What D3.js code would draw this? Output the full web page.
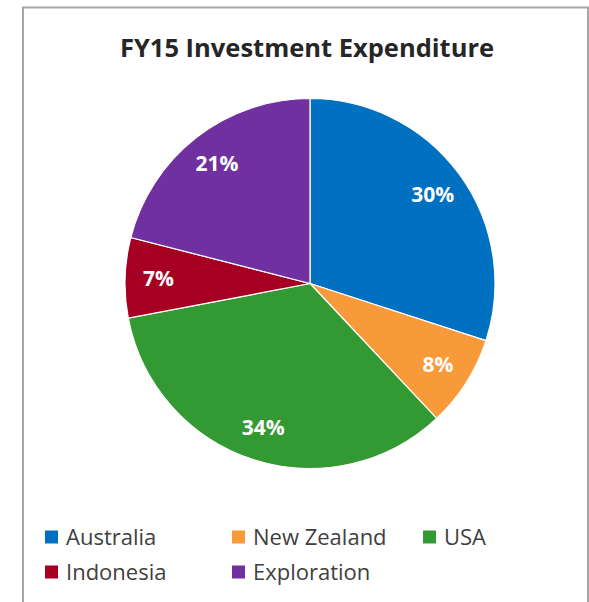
<!DOCTYPE html>
<html>
<head>
<meta charset="utf-8">
<script src="https://cdn.jsdelivr.net/npm/d3@7"></script>
<style>
  body { margin: 0; background: #fff; }
  text { font-family: "Open Sans", "DejaVu Sans", sans-serif; }
</style>
</head>
<body>
<svg id="chart" width="589" height="602"></svg>
<script>
var categories = ["Australia", "New Zealand", "USA", "Indonesia", "Exploration"];
var shares = [30, 8, 34, 7, 21];
var colours = ["#0070c0", "#f99a3a", "#339933", "#a50021", "#7030a0"];

var svg = d3.select("#chart");

// frame round the chart area (bottom edge is off the picture)
svg.append("path")
    .attr("d", "M23,602 V7.5 H588 V602")
    .attr("fill", "none")
    .attr("stroke", "#a6a6a6")
    .attr("stroke-width", 2);

svg.append("text")
    .attr("x", 307)
    .attr("y", 57)
    .attr("text-anchor", "middle")
    .attr("font-size", 25.5)
    .attr("font-weight", 700)
    .attr("fill", "#262626")
    .text("FY15 Investment Expenditure");

var data = categories.map(function (c, i) {
    return { name: c, value: shares[i], colour: colours[i] };
});

var radius = 185;

var pie = d3.pie()
    .value(d => d.value)
    .sort(null);

var arc = d3.arc()
    .innerRadius(0)
    .outerRadius(radius);

var labelArc = d3.arc()
    .innerRadius(radius * 0.82)
    .outerRadius(radius * 0.82);

var color = d3.scaleOrdinal(categories, colours);

var pieg = svg.append("g")
    .attr("transform", "translate(310,283.5)");

var slices = pie(data);

pieg.selectAll("path")
    .data(slices)
    .join("path")
    .attr("d", arc)
    .attr("fill", d => color(d.data.name))
    .attr("stroke", "#fff")
    .attr("stroke-width", 1.2);

pieg.selectAll("text")
    .data(slices)
    .join("text")
    .attr("transform", d => "translate(" + labelArc.centroid(d) + ")")
    .attr("text-anchor", "middle")
    .attr("dy", "0.36em")
    .attr("font-size", 21)
    .attr("font-weight", 700)
    .attr("fill", "#fff")
    .text(d => d.data.value + "%");

// legend, two rows
var legendX = [45, 232, 423, 45, 232];
var legendY = [537, 537, 537, 572, 572];

var leg = svg.append("g")
    .selectAll("g")
    .data(data)
    .join("g")
    .attr("transform", (d, i) => "translate(" + legendX[i] + "," + legendY[i] + ")");

leg.append("rect")
    .attr("x", 0)
    .attr("y", -6.5)
    .attr("width", 13)
    .attr("height", 13)
    .attr("fill", d => color(d.name));

leg.append("text")
    .attr("x", 21)
    .attr("dy", "0.36em")
    .attr("font-size", 22)
    .attr("fill", "#404040")
    .text(d => d.name);
</script>
</body>
</html>
